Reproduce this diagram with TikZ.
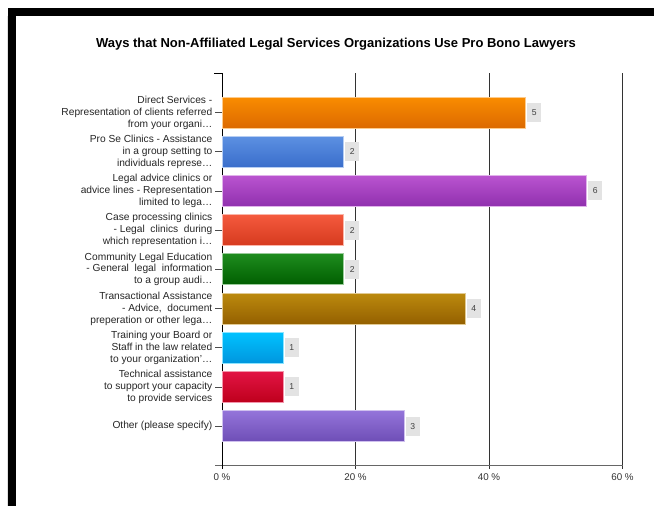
\documentclass[tikz,border=0pt]{standalone}
\usepackage{fontspec}
\setmainfont{Liberation Sans}
\begin{document}
\begin{tikzpicture}[x=1pt,y=-1pt,
  lbl/.style={anchor=east,align=right,font=\fontsize{10.2}{11.9}\selectfont,text=black!85,inner sep=0pt},
  val/.style={anchor=west,fill=black!11,font=\fontsize{8.6}{9}\selectfont,text=black!75,minimum width=14pt,minimum height=19pt,inner sep=0pt},
  grid/.style={draw=black!80,line width=0.9pt},
  axlbl/.style={font=\fontsize{9.8}{10}\selectfont,text=black!80,anchor=north,inner sep=0pt}]
\useasboundingbox (0,0) rectangle (654,506);
% frame
\fill[white] (0,0) rectangle (654,506);
\fill[black] (8,8) rectangle (654,16);
\fill[black] (8,8) rectangle (16,506);
\draw[black!12,line width=0.6pt] (7,16) -- (7,506);
% title
\node[font=\bfseries\fontsize{13}{14}\selectfont] (title) at (336,44) {Ways that Non-Affiliated Legal Services Organizations Use Pro Bono Lawyers};
% grid lines
\foreach \gx in {355.5,489,622.5} {\draw[grid] (\gx,73) -- (\gx,469);}
% axes
\draw[black!60,line width=0.9pt] (215,465) -- (622.5,465);
\draw[black,line width=0.9pt] (214,73) -- (222,73) -- (222,469);
% axis labels
\node[axlbl] (a0) at (222,473) {0 \%};
\node[axlbl] (a20) at (355.5,473) {20 \%};
\node[axlbl] (a40) at (489,473) {40 \%};
\node[axlbl] (a60) at (622.5,473) {60 \%};
% bars
\newcommand{\mybar}[6]{%
  % #1 index, #2 y center, #3 x end, #4 top colour, #5 bottom colour, #6 value
  \shade[top color=#4,bottom color=#5,draw=white!55!#4,line width=0.7pt] (222.5,#2-15.5) rectangle (#3,#2+15.5);
  \node[val] (v#1) at (#3+1.5,#2) {#6};
  \draw[black!70,line width=0.7pt] (215,#2) -- (222,#2);
}
\definecolor{c1t}{HTML}{FA8C00}\definecolor{c1b}{HTML}{DC6A00}
\definecolor{c2t}{HTML}{5C90E2}\definecolor{c2b}{HTML}{3A6ECB}
\definecolor{c3t}{HTML}{BA54D0}\definecolor{c3b}{HTML}{9030AE}
\definecolor{c4t}{HTML}{F45A3E}\definecolor{c4b}{HTML}{D63A1E}
\definecolor{c5t}{HTML}{1E8C1E}\definecolor{c5b}{HTML}{005E00}
\definecolor{c6t}{HTML}{BC8A0E}\definecolor{c6b}{HTML}{946000}
\definecolor{c7t}{HTML}{00C2FF}\definecolor{c7b}{HTML}{0096DE}
\definecolor{c8t}{HTML}{E21444}\definecolor{c8b}{HTML}{BE001C}
\definecolor{c9t}{HTML}{9474DA}\definecolor{c9b}{HTML}{6E4EB6}
\mybar{1}{112.5}{525.5}{c1t}{c1b}{5}
\mybar{2}{151.7}{343.5}{c2t}{c2b}{2}
\mybar{3}{190.9}{586.5}{c3t}{c3b}{6}
\mybar{4}{230.1}{343.5}{c4t}{c4b}{2}
\mybar{5}{269.3}{343.5}{c5t}{c5b}{2}
\mybar{6}{308.5}{465}{c6t}{c6b}{4}
\mybar{7}{347.7}{283}{c7t}{c7b}{1}
\mybar{8}{386.9}{283}{c8t}{c8b}{1}
\mybar{9}{426.1}{404}{c9t}{c9b}{3}
% category labels
\node[lbl] (l1) at (212.5,112.5) {Direct Services -\\Representation of clients referred\\from your organi\dots};
\node[lbl] (l2) at (212.5,151.7) {Pro Se Clinics - Assistance\\in a group setting to\\individuals represe\dots};
\node[lbl] (l3) at (212.5,190.9) {Legal advice clinics or\\advice lines - Representation\\limited to lega\dots};
\node[lbl] (l4) at (212.5,230.1) {Case processing clinics\\- Legal\ \ clinics\ \ during\\which representation i\dots};
\node[lbl] (l5) at (212.5,269.3) {Community Legal Education\\- General\ \ legal\ \ information\\to a group audi\dots};
\node[lbl] (l6) at (212.5,308.5) {Transactional Assistance\\- Advice,\ \ document\\preperation or other lega\dots};
\node[lbl] (l7) at (212.5,347.7) {Training your Board or\\Staff in the law related\\to your organization'\dots};
\node[lbl] (l8) at (212.5,386.9) {Technical assistance\\to support your capacity\\to provide services};
\node[lbl] (l9) at (212.5,426.1) {Other (please specify)};
\end{tikzpicture}
\end{document}
